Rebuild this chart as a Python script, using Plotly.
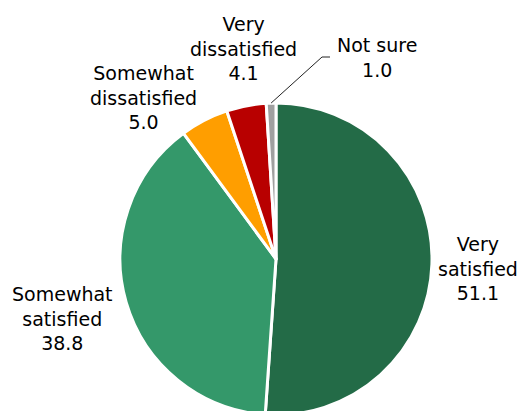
import math
import plotly.graph_objects as go

# data
labels = ['Very<br>satisfied', 'Somewhat<br>satisfied', 'Somewhat<br>dissatisfied', 'Very<br>dissatisfied', 'Not sure']
values = [51.1, 38.8, 5.0, 4.1, 1.0]
colors = ['#236b47', '#34986a', '#ff9e00', '#b80000', '#a0a0a0']

W, H = 522, 415   # a bit taller than the window so the pie runs off the bottom
cx, cy, r = 276, 259, 156   # pie centre / radius in px

# label centres (px), kept apart from the data
label_pos = [(478, 268), (62, 318), (143, 97), (243, 48), (377, 57)]

fig = go.Figure(go.Pie(
    labels=labels,
    values=values,
    sort=False,
    direction='clockwise',
    rotation=0,
    textinfo='none',
    hoverinfo='label+value',
    marker=dict(colors=colors, line=dict(color='white', width=3)),
    domain=dict(x=[(cx - r) / W, (cx + r) / W], y=[(H - cy - r) / H, (H - cy + r) / H]),
    showlegend=False,
))

for lab, v, (px, py) in zip(labels, values, label_pos):
    fig.add_annotation(
        x=px / W, y=1 - py / H, xref='paper', yref='paper',
        text=f'{lab}<br>{v:.1f}', showarrow=False,
        xanchor='center', yanchor='middle',
        font=dict(family='DejaVu Sans', size=19, color='#000000'),
    )

# leader line for the smallest slice
tot = sum(values)
mid = (sum(values[:-1]) + values[-1] / 2) / tot * 2 * math.pi
x0 = cx + r * math.sin(mid)
y0 = cy - r * math.cos(mid)
pts = [(x0, y0), (322, 57), (330, 57)]
path = 'M ' + ' L '.join(f'{x / W},{1 - y / H}' for x, y in pts)
fig.add_shape(type='path', path=path, xref='paper', yref='paper',
              line=dict(color='#222222', width=1))

fig.update_layout(
    width=W, height=H,
    margin=dict(l=0, r=0, t=0, b=0),
    paper_bgcolor='white',
    plot_bgcolor='white',
)
# no body margin, no scrollbars, no modebar
fig.write_html('out.html',
               config={'displayModeBar': False},
               post_script="document.body.style.margin='0';document.body.style.overflow='hidden';")
